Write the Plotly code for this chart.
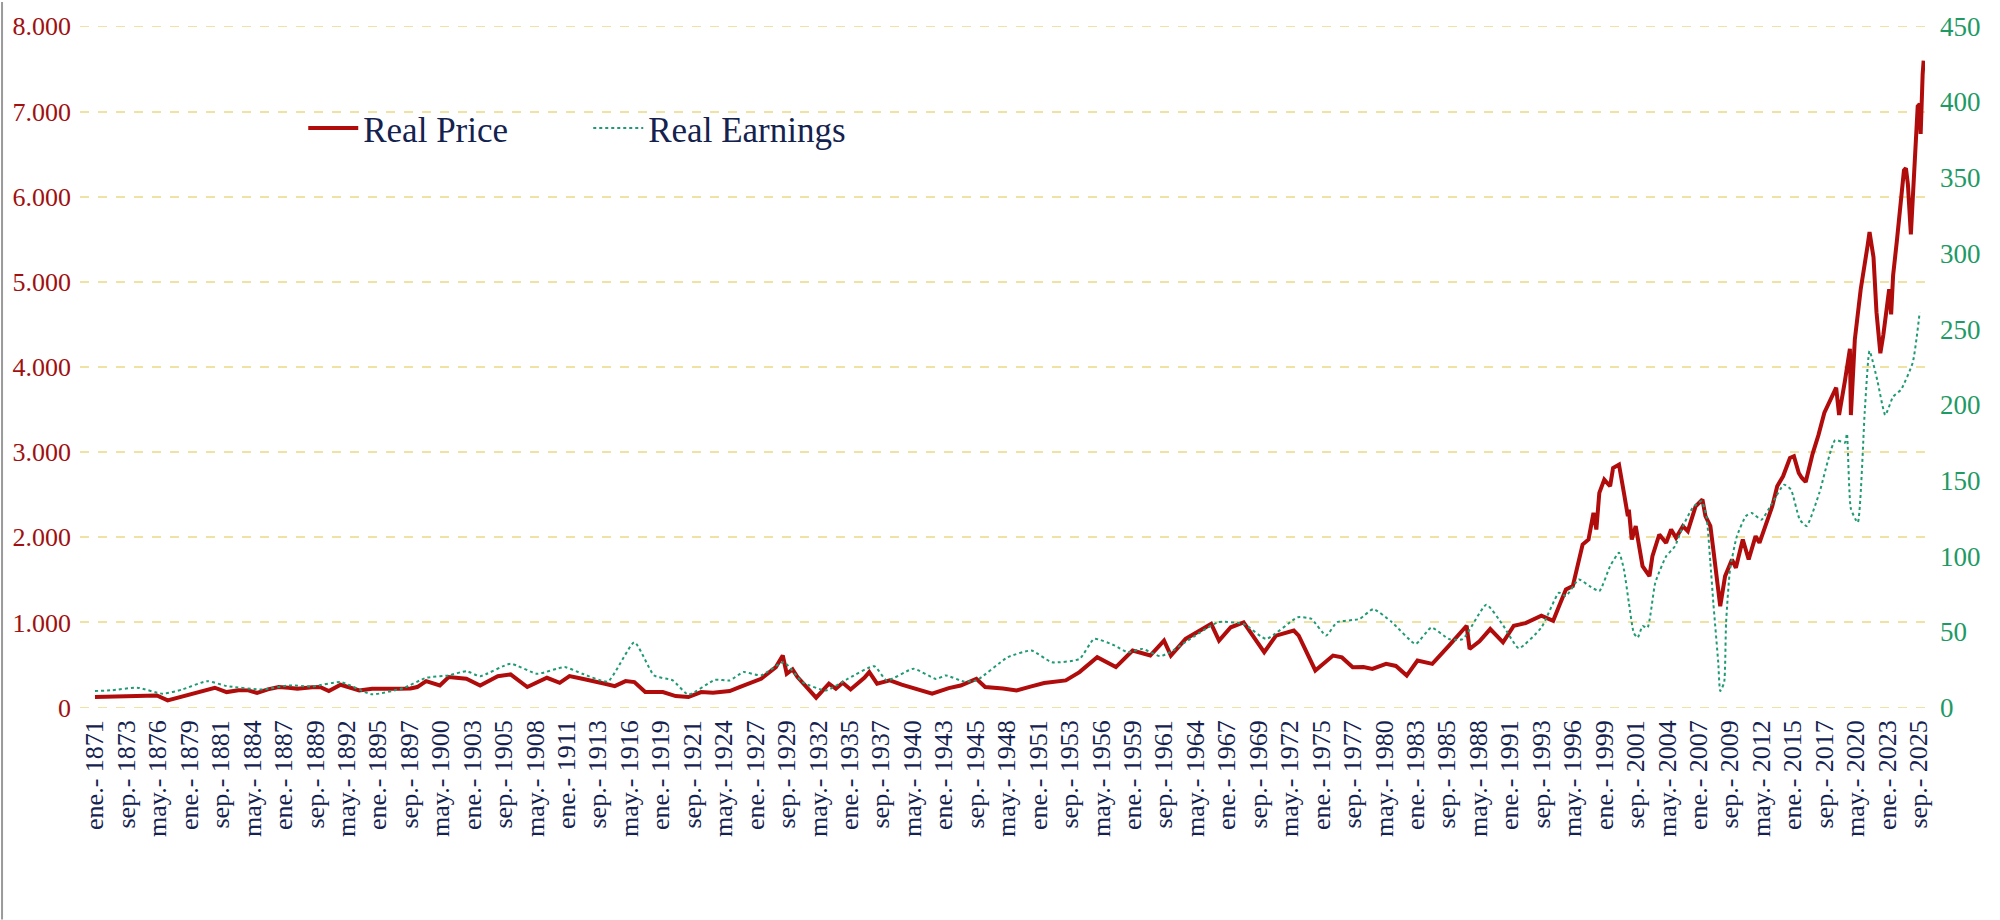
import plotly.graph_objects as go
import pandas as pd

# Real Price (left axis)
price_dates = [
    "1871-01", "1872-06", "1873-05", "1874-06", "1875-06", "1876-04", "1877-03", "1878-03",
    "1879-06", "1880-06", "1881-03", "1882-03", "1883-03", "1884-01", "1884-10", "1885-09",
    "1886-08", "1887-06", "1888-03", "1889-06", "1890-02", "1890-11", "1891-11", "1893-06",
    "1894-07", "1896-10", "1897-10", "1898-05", "1899-02", "1900-04", "1901-01", "1902-07",
    "1903-09", "1905-03", "1906-04", "1907-09", "1909-05", "1910-06", "1911-04", "1912-05",
    "1913-06", "1914-04", "1915-02", "1916-01", "1916-10", "1917-09", "1919-03", "1920-04",
    "1921-05", "1922-06", "1923-06", "1924-11", "1925-09", "1926-06", "1927-07", "1928-10",
    "1929-05", "1929-09", "1930-03", "1930-08", "1931-06", "1932-03", "1933-04", "1933-11",
    "1934-06", "1935-02", "1936-04", "1936-09", "1937-05", "1938-06", "1939-06", "1940-03",
    "1942-01", "1943-06", "1944-06", "1945-10", "1946-07", "1948-01", "1949-03", "1950-06",
    "1951-07", "1953-05", "1954-07", "1956-01", "1957-08", "1959-01", "1960-07", "1961-09",
    "1962-04", "1963-07", "1965-09", "1966-05", "1967-05", "1968-06", "1970-03", "1971-03",
    "1972-09", "1973-02", "1974-07", "1976-01", "1976-10", "1977-09", "1978-08", "1979-05",
    "1980-07", "1981-05", "1982-04", "1983-03", "1984-06", "1985-11", "1987-05", "1987-08",
    "1988-06", "1989-05", "1990-06", "1991-05", "1992-05", "1993-09", "1994-09", "1995-03",
    "1995-10", "1996-05", "1996-10", "1997-03", "1997-09", "1998-02", "1998-05", "1998-08",
    "1999-01", "1999-07", "1999-10", "2000-04", "2000-09", "2001-01", "2001-02", "2001-05",
    "2001-09", "2002-04", "2002-11", "2003-02", "2003-09", "2004-04", "2004-09", "2005-02",
    "2005-09", "2006-02", "2006-10", "2007-05", "2007-08", "2008-01", "2008-04", "2008-08",
    "2008-11", "2009-04", "2009-11", "2010-03", "2010-10", "2011-04", "2011-11", "2012-03",
    "2012-10", "2013-04", "2013-09", "2014-03", "2014-10", "2015-02", "2015-07", "2015-10",
    "2016-02", "2016-09", "2017-03", "2017-09", "2018-09", "2018-12", "2019-06", "2019-10",
    "2019-11", "2019-12", "2020-04", "2020-10", "2021-02", "2021-05", "2021-07", "2021-11",
    "2022-02", "2022-04", "2022-06", "2022-09", "2022-11", "2023-03", "2023-05", "2023-07",
    "2023-11", "2024-02", "2024-06", "2024-08", "2024-10", "2025-01", "2025-03", "2025-06",
    "2025-08", "2025-10", "2025-11", "2026-01", "2026-02",
]
price_values = [
    125, 130, 125, 135, 140, 144, 86, 120,
    164, 200, 234, 183, 205, 203, 172, 215,
    242, 235, 222, 240, 242, 195, 269, 203,
    222, 222, 225, 242, 312, 261, 359, 339,
    261, 370, 390, 242, 351, 292, 370, 339,
    300, 281, 253, 312, 300, 183, 183, 136,
    125, 183, 175, 195, 242, 280, 339, 476,
    612, 398, 450, 359, 230, 117, 281, 222,
    292, 214, 350, 417, 281, 320, 270, 242,
    164, 230, 260, 339, 242, 225, 203, 250,
    289, 320, 417, 593, 476, 671, 612, 788,
    612, 807, 983, 788, 944, 1002, 651, 846,
    905, 845, 437, 612, 590, 475, 476, 455,
    514, 490, 377, 554, 514, 728, 962, 689,
    780, 923, 767, 962, 993, 1079, 1020, 1192,
    1388, 1427, 1662, 1916, 1975, 2288, 2092, 2522,
    2678, 2600, 2815, 2854, 2522, 2248, 2326, 1975,
    2131, 1662, 1544, 1779, 2033, 1935, 2092, 1994,
    2131, 2072, 2365, 2444, 2248, 2131, 1857, 1466,
    1192, 1544, 1740, 1642, 1975, 1740, 2014, 1935,
    2170, 2365, 2600, 2717, 2932, 2952, 2756, 2700,
    2650, 2980, 3200, 3463, 3758, 3436, 3839, 4134,
    4215, 3436, 4322, 4913, 5181, 5423, 5584, 5288,
    4644, 4376, 4161, 4376, 4537, 4913, 4617, 5074,
    5503, 5879, 6308, 6335, 6147, 5557, 6040, 6684,
    7060, 7087, 6738, 7436, 7597,
]

# Real Earnings (right axis)
earn_dates = [
    "1871-01", "1872-06", "1874-08", "1876-10", "1878-06", "1880-07", "1882-03", "1885-04",
    "1887-06", "1889-06", "1891-11", "1894-07", "1897-03", "1899-02", "1901-01", "1902-07",
    "1903-09", "1906-04", "1908-07", "1910-11", "1912-05", "1914-07", "1916-10", "1918-06",
    "1920-01", "1921-05", "1923-08", "1924-11", "1926-01", "1927-07", "1929-06", "1931-01",
    "1933-01", "1934-11", "1937-02", "1938-03", "1940-06", "1942-05", "1943-03", "1944-09",
    "1945-10", "1948-06", "1950-06", "1952-03", "1954-07", "1955-10", "1957-07", "1958-08",
    "1959-11", "1961-05", "1962-03", "1966-04", "1968-06", "1970-05", "1973-01", "1974-03",
    "1975-06", "1976-05", "1978-04", "1979-06", "1981-01", "1983-01", "1984-05", "1985-11",
    "1987-01", "1989-01", "1990-06", "1991-10", "1993-09", "1995-03", "1995-10", "1996-11",
    "1997-10", "1998-08", "1999-07", "2000-04", "2000-09", "2001-02", "2001-07", "2001-11",
    "2002-04", "2002-09", "2003-05", "2004-04", "2005-01", "2005-09", "2006-07", "2007-04",
    "2007-09", "2008-01", "2008-04", "2008-09", "2008-11", "2009-03", "2009-05", "2009-09",
    "2010-04", "2011-01", "2011-07", "2012-05", "2013-04", "2014-04", "2014-11", "2015-08",
    "2016-03", "2017-04", "2018-08", "2019-06", "2019-08", "2019-12", "2020-07", "2021-02",
    "2021-07", "2022-03", "2022-11", "2023-07", "2024-03", "2025-03", "2025-10",
]
earn_values = [
    11, 11.5, 13.2, 9.2, 12, 17.5, 14.3, 12,
    14.7, 14, 16.9, 8.8, 13, 19.7, 21.3, 24.1,
    20.8, 29, 22.4, 26.8, 22.4, 17.3, 43.2, 21.3,
    18, 8.6, 18.4, 18, 23.5, 21.3, 30, 16.9,
    11.4, 19, 27.4, 18, 25.7, 19, 21.3, 17.3,
    18, 33.3, 37.7, 30, 32.2, 45.4, 41, 36.6,
    38.8, 34, 36.6, 56.4, 55.3, 45.4, 59.7, 58.6,
    47.6, 56.4, 58.6, 65.1, 56.4, 42.1, 52.9, 45.3,
    45.3, 68, 54.4, 39.3, 52.9, 75.9, 73.7, 84.7,
    80.3, 77, 93.5, 102.3, 91.3, 69.3, 49.5, 46.2,
    53.9, 52.8, 82.5, 100, 106.7, 119.8, 132, 136.3,
    126.4, 95.7, 69.3, 29.7, 11, 16.5, 56, 91.3,
    113.2, 126.4, 128.6, 124.2, 135.2, 147.3, 144, 124.2,
    120, 142, 176.7, 175, 181, 131.4, 122.3, 194.8,
    235.6, 216, 193.3, 205.4, 210, 228, 261,
]

# x-axis labels, one every 32 months from ene. 1871
tick_labels = [
    "ene.- 1871", "sep.- 1873", "may.- 1876", "ene.- 1879", "sep.- 1881", "may.- 1884",
    "ene.- 1887", "sep.- 1889", "may.- 1892", "ene.- 1895", "sep.- 1897", "may.- 1900",
    "ene.- 1903", "sep.- 1905", "may.- 1908", "ene.- 1911", "sep.- 1913", "may.- 1916",
    "ene.- 1919", "sep.- 1921", "may.- 1924", "ene.- 1927", "sep.- 1929", "may.- 1932",
    "ene.- 1935", "sep.- 1937", "may.- 1940", "ene.- 1943", "sep.- 1945", "may.- 1948",
    "ene.- 1951", "sep.- 1953", "may.- 1956", "ene.- 1959", "sep.- 1961", "may.- 1964",
    "ene.- 1967", "sep.- 1969", "may.- 1972", "ene.- 1975", "sep.- 1977", "may.- 1980",
    "ene.- 1983", "sep.- 1985", "may.- 1988", "ene.- 1991", "sep.- 1993", "may.- 1996",
    "ene.- 1999", "sep.- 2001", "may.- 2004", "ene.- 2007", "sep.- 2009", "may.- 2012",
    "ene.- 2015", "sep.- 2017", "may.- 2020", "ene.- 2023", "sep.- 2025",
]
tick_vals = pd.date_range("1871-01-01", periods=len(tick_labels), freq="32MS")

FONT = "Liberation Serif"
RED = "#B00C0C"
GREEN = "#1F9A74"
NAVY = "#14224F"
GRID = "#EFE2A2"

fig = go.Figure()

fig.add_trace(go.Scatter(
    x=pd.to_datetime(price_dates), y=price_values,
    name="Real Price", mode="lines",
    line=dict(color=RED, width=4),
))
fig.add_trace(go.Scatter(
    x=pd.to_datetime(earn_dates), y=earn_values,
    name="Real Earnings", mode="lines", yaxis="y2",
    line=dict(color=GREEN, width=2, dash="dot", shape="spline", smoothing=0.5),
))

# gridlines at the bottom and top of the range (plotly skips them at the edges)
for v in [0, 8000]:
    fig.add_hline(y=v, line=dict(color=GRID, width=1.5, dash="dash"), layer="below")

# left frame edge of the chart area
fig.add_shape(type="line", xref="paper", yref="paper",
              x0=-78 / 1846, x1=-78 / 1846, y0=-212 / 684, y1=1 + 24 / 684,
              line=dict(color="#9A9A9A", width=2))

fig.update_layout(
    width=2000, height=920,
    margin=dict(l=79, r=75, t=24, b=212),
    paper_bgcolor="white", plot_bgcolor="white",
    separators=",.",
    font=dict(family=FONT, size=26, color=NAVY),
    showlegend=True,
    legend=dict(
        orientation="h", x=0.121, y=0.85, xanchor="left", yanchor="middle",
        font=dict(family=FONT, size=35, color=NAVY),
        entrywidth=220, entrywidthmode="pixels",
        itemwidth=50, bgcolor="rgba(0,0,0,0)",
    ),
    xaxis=dict(
        type="date", range=["1869-09-24", "2026-03-15"],
        tickvals=tick_vals, ticktext=tick_labels, tickangle=-90,
        tickfont=dict(family=FONT, size=26, color=NAVY),
        showgrid=False, zeroline=False, showline=False, ticks="",
        ticklabelstandoff=6,
    ),
    yaxis=dict(
        range=[-4, 8004], dtick=1000, tickformat=",.0f",
        tickfont=dict(family=FONT, size=26, color="#A01010"),
        showgrid=True, gridcolor=GRID, gridwidth=1.5, griddash="dash",
        zeroline=False, showline=False, ticks="", ticklabelstandoff=8,
    ),
    yaxis2=dict(
        range=[-0.225, 450.225], dtick=50, overlaying="y", side="right",
        tickfont=dict(family=FONT, size=27, color="#1E9A64"),
        showgrid=False, zeroline=False, showline=False, ticks="",
        ticklabelstandoff=14,
    ),
)

fig.write_html("out.html", config={"displayModeBar": False},
               post_script="document.body.style.margin='0px';")
